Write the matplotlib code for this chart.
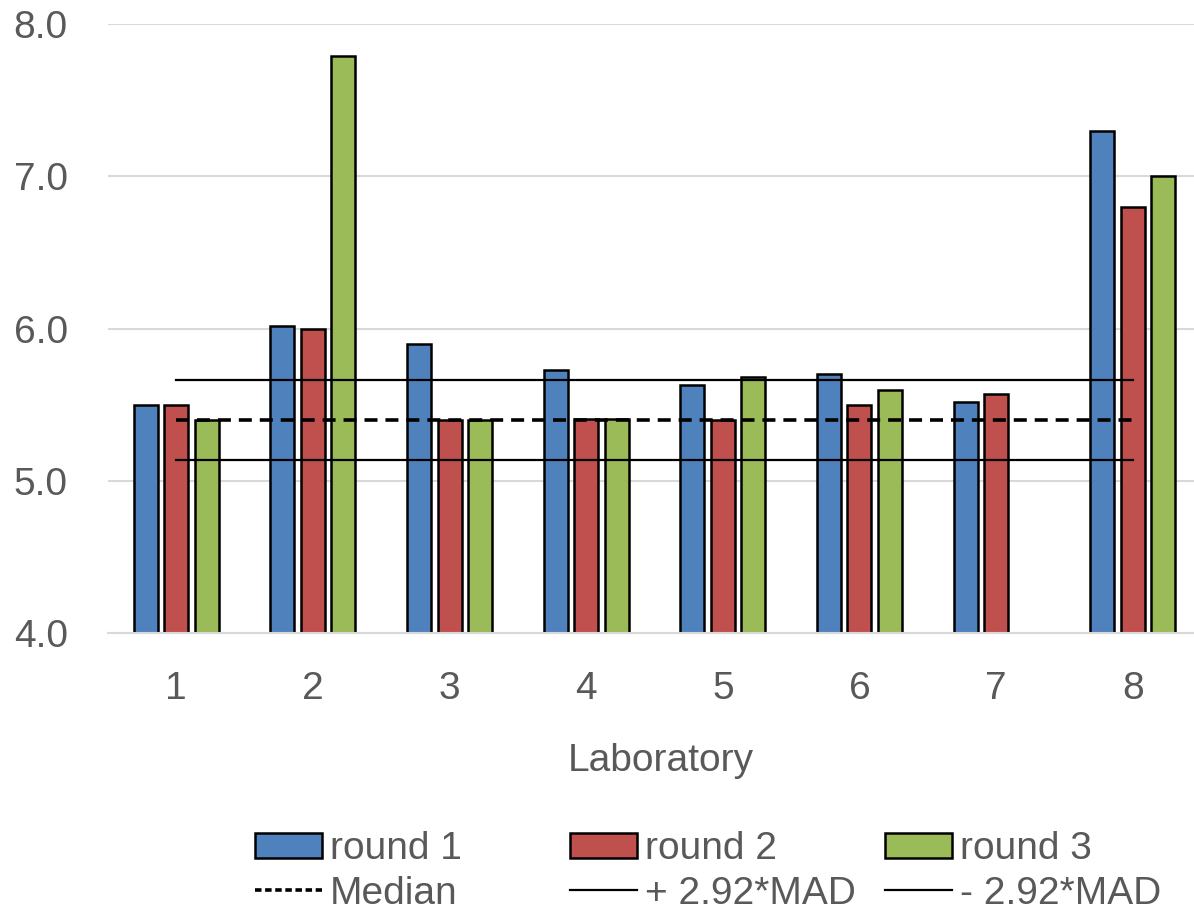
import matplotlib
matplotlib.use("Agg")
import matplotlib.pyplot as plt
import numpy as np
from matplotlib.patches import Patch
from matplotlib.lines import Line2D

labs = ["1", "2", "3", "4", "5", "6", "7", "8"]
round1 = [5.50, 6.02, 5.90, 5.73, 5.63, 5.70, 5.52, 7.30]
round2 = [5.50, 6.00, 5.40, 5.41, 5.40, 5.50, 5.57, 6.80]
round3 = [5.40, 7.79, 5.40, 5.41, 5.68, 5.60, np.nan, 7.00]
median = [5.40, 5.40, 5.40, 5.40, 5.40, 5.40, 5.40, 5.40]
upper = [5.66, 5.66, 5.66, 5.66, 5.66, 5.66, 5.66, 5.66]
lower = [5.14, 5.14, 5.14, 5.14, 5.14, 5.14, 5.14, 5.14]
yticks = [4.0, 5.0, 6.0, 7.0, 8.0]

plt.rcParams['font.family'] = ['Liberation Sans', 'DejaVu Sans']
TXT = '#595959'
FS = 28

W, H = 1194, 913
fig = plt.figure(figsize=(W / 100, H / 100), dpi=100)
ax_left, ax_right, ax_bottom, ax_top = 108, 1201, 633.3, 24
ax = fig.add_axes([ax_left / W, (H - ax_bottom) / H,
                   (ax_right - ax_left) / W, (ax_bottom - ax_top) / H])

x = np.arange(1, len(labs) + 1)
step = 0.223
bw = 0.176
colors = ['#4F81BD', '#C0504D', '#9BBB59']
series = [round1, round2, round3]
names = ['round 1', 'round 2', 'round 3']
for i, (vals, c) in enumerate(zip(series, colors)):
    v = np.array(vals, dtype=float)
    ax.bar(x + (i - 1) * step, v - 4.0, bottom=4.0, width=bw, color=c,
           edgecolor='black', linewidth=1.8, zorder=2)

ax.plot(x, median, color='black', linewidth=2.6, linestyle=(0, (3.6, 2.2)), zorder=3)
ax.plot(x, upper, color='black', linewidth=1.6, zorder=3)
ax.plot(x, lower, color='black', linewidth=1.6, zorder=3)

ax.set_xlim(0.5, 8.5)
ax.set_ylim(4.0, 8.0)
ax.set_yticks(yticks)
ax.set_yticklabels([f"{t:.1f}" for t in yticks])
ax.set_xticks(x)
ax.set_xticklabels(labs)
ax.yaxis.grid(True, color='#D9D9D9', linewidth=1.5, zorder=0)
ax.set_axisbelow(True)
for s in ['top', 'right', 'left']:
    ax.spines[s].set_visible(False)
ax.spines['bottom'].set_color('#D9D9D9')
ax.spines['bottom'].set_linewidth(1.5)
ax.tick_params(axis='both', length=0, labelsize=FS, labelcolor=TXT)
ax.tick_params(axis='y', pad=29)
ax.tick_params(axis='x', pad=27)
ax.set_xlabel('Laboratory', fontsize=FS, color=TXT)
ax.xaxis.set_label_coords((661 - ax_left) / (ax_right - ax_left),
                          (ax_bottom - 743) / (ax_bottom - ax_top))

cols = [
    (255, Patch(facecolor=colors[0], edgecolor='black', linewidth=1.8), names[0],
     Line2D([], [], color='black', linewidth=2.6, linestyle=(0, (1.8, 1.0))), 'Median'),
    (570, Patch(facecolor=colors[1], edgecolor='black', linewidth=1.8), names[1],
     Line2D([], [], color='black', linewidth=1.6), '+ 2.92*MAD'),
    (885, Patch(facecolor=colors[2], edgecolor='black', linewidth=1.8), names[2],
     Line2D([], [], color='black', linewidth=1.6), '- 2.92*MAD'),
]
legs = []
for xpx, h1, l1, h2, l2 in cols:
    leg = fig.legend([h1, h2], [l1, l2], loc='upper left',
                     bbox_to_anchor=(xpx / W, (H - 831) / H),
                     bbox_transform=fig.transFigure, frameon=False,
                     fontsize=FS, handlelength=1.72, handleheight=0.62,
                     handletextpad=0.2, labelspacing=0.22, borderpad=0,
                     borderaxespad=0, labelcolor=TXT)
    legs.append(leg)

fig.savefig('out.png', dpi=100)
